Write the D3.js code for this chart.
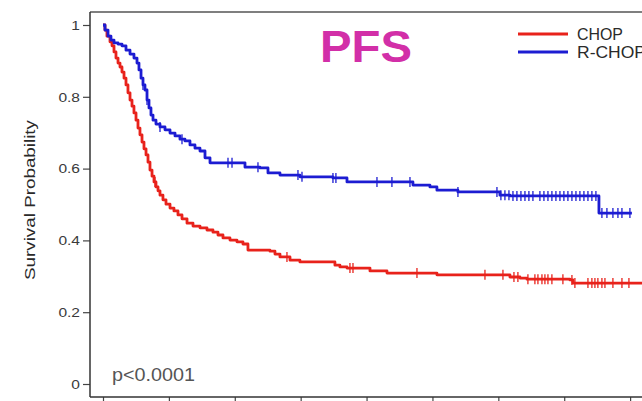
<!DOCTYPE html>
<html>
<head>
<meta charset="utf-8">
<script src="https://cdn.jsdelivr.net/npm/d3@7"></script>
<style>
  body { margin: 0; background: #fff; }
  svg { display: block; font-family: Arial, "Liberation Sans", sans-serif; }
</style>
</head>
<body>
<svg id="chart" width="642" height="401"></svg>
<script>
// PFS Kaplan-Meier, CHOP vs R-CHOP (time in years)
var chopTime = [0, 0.03, 0.06, 0.106, 0.137, 0.167, 0.197, 0.228, 0.258, 0.288, 0.319, 0.349, 0.379, 0.41, 0.44, 0.47, 0.501, 0.531, 0.561, 0.592, 0.622, 0.653, 0.683, 0.713, 0.744, 0.774, 0.804, 0.835, 0.865, 0.91, 0.956, 1.017, 1.077, 1.138, 1.199, 1.275, 1.366, 1.472, 1.578, 1.669, 1.745, 1.821, 1.927, 2.033, 2.124, 2.2, 2.534, 2.61, 2.686, 2.838, 2.989, 3.52, 3.596, 3.703, 4.052, 4.31, 5.068, 6.176, 6.328, 6.434, 7.086, 7.132, 8.3];
var chopSurv = [1, 0.986, 0.969, 0.953, 0.942, 0.925, 0.908, 0.894, 0.883, 0.869, 0.852, 0.833, 0.811, 0.791, 0.774, 0.755, 0.735, 0.713, 0.694, 0.674, 0.655, 0.638, 0.618, 0.596, 0.579, 0.563, 0.549, 0.538, 0.526, 0.513, 0.501, 0.49, 0.482, 0.471, 0.46, 0.448, 0.44, 0.435, 0.429, 0.423, 0.415, 0.407, 0.401, 0.396, 0.39, 0.373, 0.37, 0.362, 0.354, 0.345, 0.34, 0.331, 0.326, 0.323, 0.315, 0.309, 0.304, 0.298, 0.295, 0.292, 0.29, 0.281, 0.281];
var chopCensor = [0.789, 2.792, 3.748, 3.794, 4.765, 5.797, 6.07, 6.237, 6.297, 6.449, 6.555, 6.601, 6.662, 6.707, 6.753, 6.813, 6.98, 7.117, 7.162, 7.36, 7.42, 7.466, 7.511, 7.572, 7.618, 7.739, 7.876, 7.982];

var rchopTime = [0, 0.03, 0.076, 0.121, 0.167, 0.228, 0.288, 0.349, 0.41, 0.47, 0.516, 0.546, 0.577, 0.607, 0.637, 0.668, 0.698, 0.728, 0.759, 0.804, 0.865, 0.941, 1.017, 1.093, 1.168, 1.244, 1.32, 1.396, 1.472, 1.548, 1.624, 2.155, 2.382, 2.504, 2.686, 2.989, 3.49, 3.703, 4.704, 4.962, 5.068, 5.387, 6.024, 6.176, 7.527, 8.027];
var rchopSurv = [1, 0.986, 0.969, 0.958, 0.95, 0.947, 0.942, 0.93, 0.919, 0.908, 0.894, 0.875, 0.852, 0.833, 0.819, 0.791, 0.769, 0.749, 0.735, 0.724, 0.716, 0.708, 0.699, 0.691, 0.682, 0.677, 0.666, 0.657, 0.649, 0.63, 0.616, 0.604, 0.602, 0.588, 0.582, 0.577, 0.574, 0.563, 0.554, 0.549, 0.54, 0.535, 0.526, 0.524, 0.476, 0.476];
var rchopCensor = [0.607, 0.668, 0.865, 1.199, 1.897, 1.958, 2.352, 2.959, 3.02, 3.49, 3.535, 4.158, 4.385, 4.659, 5.387, 5.979, 6.039, 6.1, 6.161, 6.222, 6.282, 6.343, 6.404, 6.464, 6.525, 6.631, 6.692, 6.753, 6.813, 6.874, 6.935, 6.995, 7.056, 7.117, 7.178, 7.238, 7.299, 7.36, 7.42, 7.481, 7.572, 7.648, 7.739, 7.815, 7.876, 7.997];

var yTicks = [0, 0.2, 0.4, 0.6, 0.8, 1];
var xTicks = [0, 1, 2, 3, 4, 5, 6, 7, 8];
var seriesNames = ["CHOP", "R-CHOP"];
var seriesColors = ["#e8221b", "#1c1cd2"];

var svg = d3.select("#chart");
svg.append("rect").attr("width", 642).attr("height", 401).attr("fill", "#fff");

var x = d3.scaleLinear().domain([0, 9]).range([103, 696]);
var y = d3.scaleLinear().domain([0, 1]).range([384, 25]);

var frameLeft = 90, frameTop = 12, frameBottom = 397;

// frame
svg.append("line").attr("x1", frameLeft).attr("x2", 700).attr("y1", frameTop).attr("y2", frameTop)
	.attr("stroke", "#555").attr("stroke-width", 1.5);

// y axis
var yAxis = svg.append("g")
	.attr("transform", "translate(" + frameLeft + ",0)")
	.call(d3.axisLeft(y).tickValues(yTicks).tickSize(7).tickPadding(3)
		.tickFormat(function (d) { return d === 0 ? "0" : d === 1 ? "1" : d3.format(".1f")(d); }));
yAxis.select(".domain").remove();
yAxis.selectAll(".tick line").attr("stroke", "#444").attr("stroke-width", 1.2);
yAxis.selectAll(".tick text").attr("fill", "#3a3a3a").attr("font-size", 13.5)
	.attr("font-family", "Arial, 'Liberation Sans', sans-serif")
	.each(function () {
		var w = this.getComputedTextLength();
		d3.select(this).attr("textLength", w * 1.15).attr("lengthAdjust", "spacingAndGlyphs");
	});
svg.append("line").attr("x1", frameLeft).attr("x2", frameLeft).attr("y1", frameTop).attr("y2", frameBottom)
	.attr("stroke", "#333").attr("stroke-width", 1.5);

// x axis (labels fall outside the picture)
var xAxis = svg.append("g")
	.attr("transform", "translate(0," + frameBottom + ")")
	.call(d3.axisBottom(x).tickValues(xTicks).tickSize(7).tickFormat(""));
xAxis.select(".domain").remove();
xAxis.selectAll(".tick line").attr("stroke", "#444").attr("stroke-width", 1.2);
svg.append("line").attr("x1", frameLeft).attr("x2", 700).attr("y1", frameBottom).attr("y2", frameBottom)
	.attr("stroke", "#333").attr("stroke-width", 1.5);

// y label
svg.append("text")
	.attr("transform", "translate(35,200) rotate(-90)")
	.attr("text-anchor", "middle")
	.attr("font-size", 14)
	.attr("fill", "#2a2a2a")
	.attr("textLength", 160)
	.attr("lengthAdjust", "spacingAndGlyphs")
	.text("Survival Probability");

// curves
var line = d3.line()
	.x(function (d) { return x(d.t); })
	.y(function (d) { return y(d.s); })
	.curve(d3.curveStepAfter);

var series = [
	{ time: chopTime, surv: chopSurv, censor: chopCensor },
	{ time: rchopTime, surv: rchopSurv, censor: rchopCensor }
];

series.forEach(function (ser, i) {
	var pts = ser.time.map(function (t, j) { return { t: t, s: ser.surv[j] }; });
	svg.append("path")
		.datum(pts)
		.attr("fill", "none")
		.attr("stroke", seriesColors[i])
		.attr("stroke-width", 2.8)
		.attr("stroke-linejoin", "round")
		.attr("d", line);

	var bis = d3.bisector(function (d) { return d.t; }).right;
	svg.append("g").selectAll("line")
		.data(ser.censor)
		.enter()
		.append("line")
		.attr("x1", function (d) { return x(d); })
		.attr("x2", function (d) { return x(d); })
		.attr("y1", function (d) { return y(pts[bis(pts, d) - 1].s) - 5; })
		.attr("y2", function (d) { return y(pts[bis(pts, d) - 1].s) + 5; })
		.attr("stroke", seriesColors[i])
		.attr("stroke-width", 1.3);
});

// title
svg.append("text")
	.attr("x", 320).attr("y", 62)
	.attr("font-size", 45)
	.attr("font-weight", "bold")
	.attr("fill", "#d22fa8")
	.attr("textLength", 92)
	.attr("lengthAdjust", "spacingAndGlyphs")
	.text("PFS");

// legend
var legend = svg.append("g");
seriesNames.forEach(function (name, i) {
	var ly = 34 + i * 18;
	legend.append("line").attr("x1", 518).attr("x2", 568).attr("y1", ly).attr("y2", ly)
		.attr("stroke", seriesColors[i]).attr("stroke-width", 2.8);
	legend.append("text").attr("x", 577).attr("y", ly + 6)
		.attr("font-size", 16).attr("fill", "#2a2a2a")
		.attr("textLength", name.length * 11.5)
		.attr("lengthAdjust", "spacingAndGlyphs")
		.text(name);
});

// p value
svg.append("text")
	.attr("x", 112).attr("y", 381)
	.attr("font-size", 18)
	.attr("fill", "#555")
	.attr("textLength", 83)
	.attr("lengthAdjust", "spacingAndGlyphs")
	.text("p<0.0001");
</script>
</body>
</html>
